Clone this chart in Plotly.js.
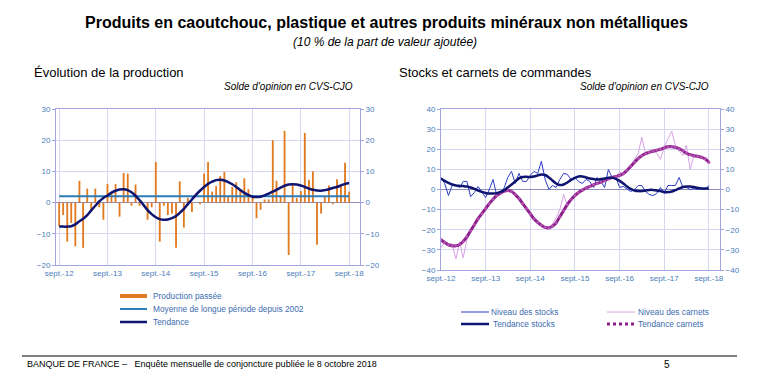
<!DOCTYPE html>
<html><head><meta charset="utf-8">
<script src="https://cdn.plot.ly/plotly-3.0.1.min.js"></script>
<style>html,body{margin:0;padding:0;background:#fff}#chart{width:774px;height:380px}</style>
</head><body><div id="chart"></div>
<script>
// ---- data (monthly, sept. 2012 -> sept. 2018) ----
const startYear = 2012, startMonth = 9, nMonths = 73;
const tickDates = ['2012-09-01','2013-09-01','2014-09-01','2015-09-01','2016-09-01','2017-09-01','2018-09-01'];
const tickLabels = ['sept.-12','sept.-13','sept.-14','sept.-15','sept.-16','sept.-17','sept.-18'];

const productionPassee = [-7.5,-4,-12.5,-6.5,-14,7,-14.5,4.5,-3,4.5,-1.5,-5.5,6,3,6,-4.5,9.5,9.3,-1,5.8,-1,0,-5.5,-1.5,13,-12.5,-1,-4,-3.5,-14.5,6.8,-8,1.5,-3,0,-0.5,9.3,13,3.5,5.3,8.5,9.8,2,5,6.5,4,7.8,4.3,2.3,-5,-2.3,1,1,20,7,2,23,-16.8,6,1.5,3.7,22.3,7.3,10,-13.5,-3.5,2,5.5,-0.5,7.5,5.5,12.8,3.5];
const moyenneLongue = 2.0;
const tendanceProd = [-7.7,-7.7,-7.7,-7.6,-7.0,-6.0,-5.2,-4.0,-2.5,-1.0,0.4,1.5,2.3,3.2,3.8,4.2,4.3,4.0,3.3,2.2,0.8,-0.8,-2.4,-3.7,-4.7,-5.3,-5.5,-5.4,-5.0,-4.3,-3.3,-2.0,-0.5,1.0,2.5,3.8,5.0,6.0,6.7,7.2,7.3,7.1,6.6,5.9,5.0,4.0,3.1,2.4,1.9,1.8,1.9,2.3,2.9,3.5,4.1,4.8,5.4,5.8,5.9,5.8,5.5,5.0,4.5,4.1,3.9,3.8,4.0,4.3,4.7,5.0,5.5,6.0,6.3];

const niveauStocks = [6,3,-3,2,2,1,4,4,-3.5,-1.5,1.5,-1.5,-4,0,5,-3,-2,1,6,9,3,8,4,4,7,9,8,14,5,0,2,1,5,8,7.5,5,6,4,3,5,4,1,6,4,1,10,6,6,1,1.5,0,-1,0,2,2,-1,-2.5,-3,-2,1,-2,2,2,2,6,1,1,0,0.5,0,0.5,0,2];
const tendanceStocks = [5.5,4.3,3.3,2.5,2.0,1.8,1.7,1.5,1.0,0.3,-0.5,-1.2,-1.7,-2.0,-2.0,-1.8,-1.2,-0.3,1.0,2.5,4.0,5.5,6.2,6.3,6.2,6.5,7.0,7.5,7.2,6.0,4.5,3.0,2.2,2.5,3.5,4.8,5.8,6.5,6.5,6.0,5.5,5.2,5.0,5.2,5.5,5.8,5.8,5.3,4.3,3.0,1.5,0.3,-0.5,-0.8,-0.8,-0.5,-0.2,-0.2,-0.5,-0.8,-1.2,-1.3,-1.0,-0.3,0.5,1.2,1.5,1.5,1.2,0.8,0.5,0.5,0.5];
const niveauCarnets = [-29,-26,-27,-27,-34.5,-26,-34,-25,-21,-18,-15,-12,-9,-7,-5,-3,-1,0,-1,-1,-3,-5,-7,-10,-12,-15,-16,-18,-19,-20,-17,-14,-10,-2.5,-8,-5,-3,-1,0,1,1.5,2,3,4,5,5,6,6,9,7,10,12,15,18,26,18,19,20,18,15,21,25,29,22,19,17,22,10,17,17,16,15,13];
const tendanceCarnets = [-25.0,-26.3,-27.5,-28.0,-28.0,-27.3,-25.8,-23.5,-20.5,-17.5,-14.5,-12.0,-9.5,-7.0,-4.8,-3.0,-1.8,-0.8,-0.5,-1.0,-2.5,-4.5,-7.0,-9.5,-12.0,-14.5,-16.3,-17.8,-18.8,-19.0,-18.3,-16.5,-13.5,-10.5,-7.5,-5.0,-3.0,-1.5,-0.3,0.7,1.5,2.3,3.0,3.7,4.5,5.3,6.0,6.5,7.0,8.0,9.5,11.5,13.5,15.5,16.8,17.8,18.5,19.0,19.5,20.0,20.7,21.2,21.3,21.0,20.3,19.2,18.0,17.3,16.8,16.5,16.0,15.3,13.5];

// month categories
const months = [];
for (let i = 0; i < nMonths; i++) {
  const t = startMonth - 1 + i;
  const y = startYear + Math.floor(t / 12), m = t % 12 + 1;
  months.push(y + '-' + String(m).padStart(2, '0') + '-01');
}

// ---- styling ----
const W = 774, H = 380;
const px = x => x / W, py = y => 1 - y / H;
const FONT = 'Liberation Sans, Arial, sans-serif';
const tickCol = '#4A7DBA';
const frameCol = '#A3A3E0', gridCol = '#D6D6F3', zeroCol = '#8E8EBE';
const cOrange = '#E17B22', cMean = '#2C7CB8', cNavy = '#0E1470';
const cStocks = '#2D3CC6', cCarnetsN = '#D7A2E4', cCarnetsT = '#8C1F8A';

const traces = [
  {type:'bar', x: months, y: productionPassee, xaxis:'x', yaxis:'y', marker:{color:cOrange}, width: 14*86400000, showlegend:false},
  {type:'scatter', mode:'lines', x: months, y: months.map(() => moyenneLongue), xaxis:'x', yaxis:'y', line:{color:cMean, width:2}, showlegend:false},
  {type:'scatter', mode:'lines', x: months, y: tendanceProd, xaxis:'x', yaxis:'y3', line:{color:cNavy, width:2.5, shape:'spline'}, showlegend:false},
  {type:'scatter', mode:'lines', x: months, y: niveauCarnets, xaxis:'x2', yaxis:'y2', line:{color:cCarnetsN, width:1}, showlegend:false},
  {type:'scatter', mode:'lines', x: months, y: niveauStocks, xaxis:'x2', yaxis:'y2', line:{color:cStocks, width:1}, showlegend:false},
  {type:'scatter', mode:'lines+markers', x: months, y: tendanceCarnets, xaxis:'x2', yaxis:'y4', line:{color:cCarnetsT, width:3, shape:'spline'}, marker:{size:3, color:'#B150B0'}, showlegend:false},
  {type:'scatter', mode:'lines', x: months, y: tendanceStocks, xaxis:'x2', yaxis:'y4', line:{color:cNavy, width:2.5, shape:'spline'}, showlegend:false}
];

const xCommon = {type:'date', tickvals: tickDates, ticktext: tickLabels, tickfont:{family:FONT, size:8, color:tickCol},
  showgrid:true, gridcolor:gridCol, showline:true, mirror:true, linecolor:frameCol, linewidth:1,
  ticks:'', zeroline:false, fixedrange:true};
const yCommon = {tickfont:{family:FONT, size:8, color:tickCol}, showgrid:true, gridcolor:gridCol,
  showline:true, mirror:true, linecolor:frameCol, linewidth:1, ticks:'outside', ticklen:3, tickcolor:frameCol,
  zeroline:true, zerolinecolor:zeroCol, zerolinewidth:1, fixedrange:true};
const yRight = {tickfont:{family:FONT, size:8, color:tickCol}, showgrid:false, showline:false, zeroline:false,
  ticks:'outside', ticklen:3, tickcolor:frameCol, side:'right', fixedrange:true};

const layout = {
  width: W, height: H, margin:{l:0, r:0, t:0, b:0, autoexpand:false},
  paper_bgcolor:'#fff', plot_bgcolor:'#fff', showlegend:false,
  font:{family:FONT, color:'#000'},
  xaxis: Object.assign({}, xCommon, {domain:[px(56), px(360)], anchor:'y', range:['2012-08-08','2018-11-22']}),
  yaxis: Object.assign({}, yCommon, {domain:[py(265), py(109)], anchor:'x', range:[-20,30], tickvals:[-20,-10,0,10,20,30]}),
  yaxis3: Object.assign({}, yRight, {overlaying:'y', anchor:'x', range:[-20,30], tickvals:[-20,-10,0,10,20,30]}),
  xaxis2: Object.assign({}, xCommon, {domain:[px(441), px(720)], anchor:'y2', range:['2012-09-01','2018-12-01']}),
  yaxis2: Object.assign({}, yCommon, {domain:[py(270), py(109)], anchor:'x2', range:[-40,40], tickvals:[-40,-30,-20,-10,0,10,20,30,40]}),
  yaxis4: Object.assign({}, yRight, {overlaying:'y2', anchor:'x2', range:[-40,40], tickvals:[-40,-30,-20,-10,0,10,20,30,40]}),
  shapes: [], annotations: []
};

function txt(text, x, y, size, opts) {
  layout.annotations.push(Object.assign({text, xref:'paper', yref:'paper', x:px(x), y:py(y), showarrow:false,
    xanchor:'left', yanchor:'middle', font:{family:FONT, size, color:'#000'}}, opts || {}));
}
function seg(x0, x1, y, color, width, dash) {
  layout.shapes.push({type:'line', xref:'paper', yref:'paper', x0:px(x0), x1:px(x1), y0:py(y), y1:py(y),
    line:{color, width, dash: dash || 'solid'}});
}

// titles
txt('<b>Produits en caoutchouc, plastique et autres produits minéraux non métalliques</b>', 386, 23, 16, {xanchor:'center'});
txt('<i>(10 % de la part de valeur ajoutée)</i>', 385, 42, 12, {xanchor:'center'});
txt('Évolution de la production', 32, 72, 13);
txt('<i>Solde d\'opinion en CVS-CJO</i>', 355, 86, 10, {xanchor:'right'});
txt('Stocks et carnets de commandes', 397, 72, 13);
txt('<i>Solde d\'opinion en CVS-CJO</i>', 711, 86, 10, {xanchor:'right'});

// legends
const legFont = {family:FONT, size:8.3, color:'#3D6CB0'};
seg(120, 147, 296, cOrange, 4); txt('Production passée', 151, 296, 8.3, {font:legFont});
seg(120, 147, 309, cMean, 2); txt('Moyenne de longue période depuis 2002', 151, 309, 8.3, {font:legFont});
seg(120, 147, 322, cNavy, 2.5); txt('Tendance', 151, 322, 8.3, {font:legFont});
seg(461, 489, 312, cStocks, 1); txt('Niveau des stocks', 489, 312, 8.3, {font:legFont});
seg(461, 489, 324, cNavy, 2.5); txt('Tendance stocks', 491, 324, 8.3, {font:legFont});
seg(607, 635, 312, cCarnetsN, 1); txt('Niveau des carnets', 636, 312, 8.3, {font:legFont});
seg(607, 635, 324, cCarnetsT, 3, 'dot'); txt('Tendance carnets', 636, 324, 8.3, {font:legFont});

// footer
seg(22, 737, 356, '#000', 1);
txt('BANQUE DE FRANCE –&nbsp;&nbsp;&nbsp;Enquête mensuelle de conjoncture publiée le 8 octobre 2018', 25, 364, 9);
txt('5', 667, 364, 10, {xanchor:'center'});

Plotly.newPlot('chart', traces, layout, {staticPlot:true, displayModeBar:false});
</script>
</body></html>
